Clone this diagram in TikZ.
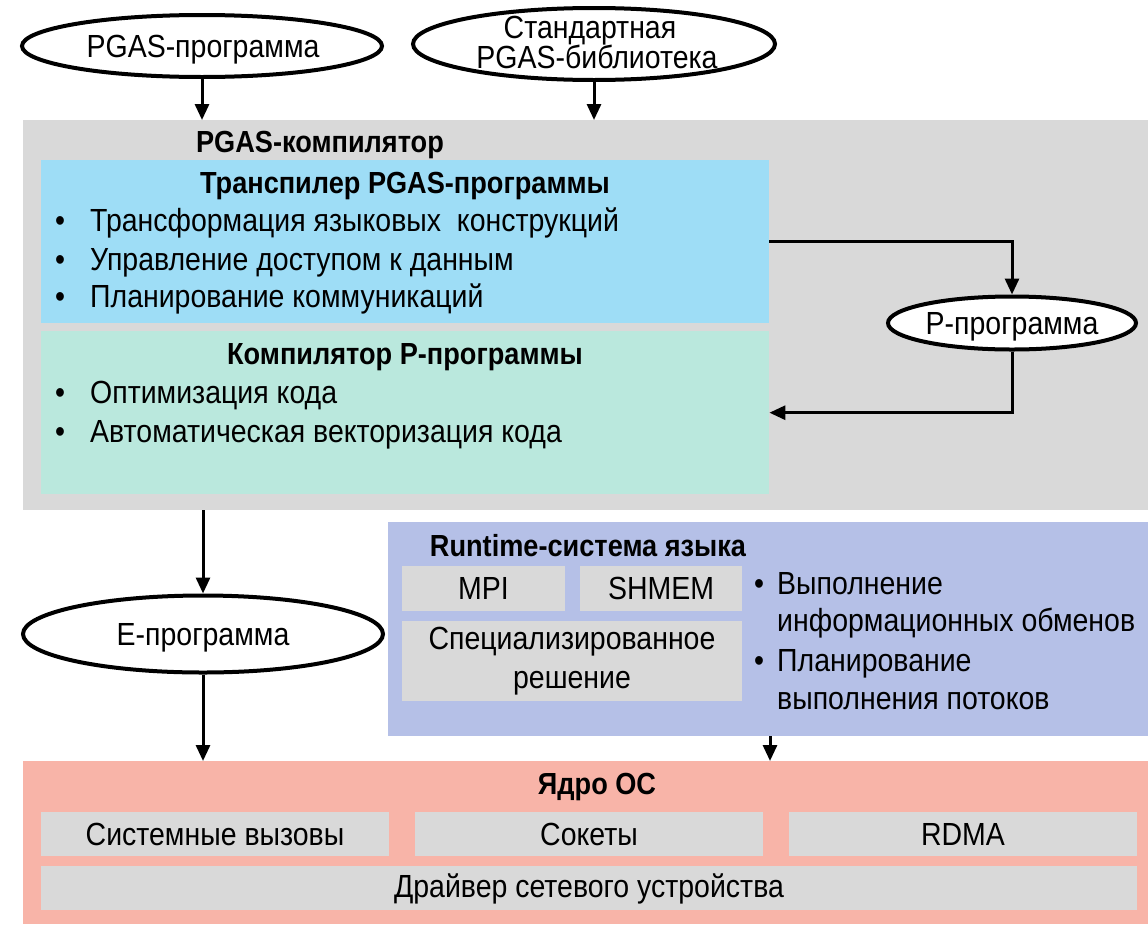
\documentclass[tikz,border=0pt]{standalone}
\usepackage{fontspec}
\setmainfont[FakeStretch=0.89]{Liberation Sans}
\usetikzlibrary{shapes.geometric,arrows.meta,calc}
\definecolor{cgray}{RGB}{217,217,217}
\definecolor{cblue}{RGB}{158,221,246}
\definecolor{cgreen}{RGB}{186,232,221}
\definecolor{clav}{RGB}{181,192,231}
\definecolor{csalmon}{RGB}{248,180,168}
\begin{document}
\begin{tikzpicture}[x=1pt,y=-1pt,
  box/.style={inner sep=0pt,anchor=north west},
  oval/.style={ellipse,draw=black,line width=4pt,fill=white,inner sep=0pt},
  txt/.style={anchor=base,inner sep=0pt,font=\fontsize{32}{38}\selectfont},
  ttl/.style={anchor=base,inner sep=0pt,font=\fontsize{30.5}{36}\selectfont\bfseries},
  lt/.style={anchor=base west,inner sep=0pt,font=\fontsize{32}{38}\selectfont},
  arr/.style={line width=3pt,-{Triangle[length=16pt,width=14pt]}}
]
\useasboundingbox (0,0) rectangle (1148,924);
\fill[white] (0,0) rectangle (1148,924);
% boxes
\node[box,fill=cgray,minimum width=1125pt,minimum height=390pt] (comp) at (23,120) {};
\node[box,fill=cblue,minimum width=728pt,minimum height=163pt] (trans) at (41,160) {};
\node[box,fill=cgreen,minimum width=728pt,minimum height=163pt] (pcomp) at (41,331) {};
\node[box,fill=clav,minimum width=760pt,minimum height=214pt] (rt) at (388,522) {};
\node[box,fill=cgray,minimum width=163pt,minimum height=45pt] (mpi) at (402,566) {};
\node[box,fill=cgray,minimum width=162pt,minimum height=45pt] (shmem) at (580,566) {};
\node[box,fill=cgray,minimum width=340pt,minimum height=80pt] (spec) at (402,621) {};
\node[box,fill=csalmon,minimum width=1125pt,minimum height=163pt] (os) at (23,761) {};
\node[box,fill=cgray,minimum width=348pt,minimum height=44pt] (sys) at (41,812) {};
\node[box,fill=cgray,minimum width=348pt,minimum height=44pt] (sock) at (415,812) {};
\node[box,fill=cgray,minimum width=348pt,minimum height=44pt] (rdma) at (789,812) {};
\node[box,fill=cgray,minimum width=1096pt,minimum height=44pt] (drv) at (41,866) {};
% ovals
\node[oval,minimum width=360pt,minimum height=62pt] (e1) at (202,46) {};
\node[oval,minimum width=362pt,minimum height=72pt] (e2) at (594,44) {};
\node[oval,minimum width=248pt,minimum height=53pt] (pp) at (1012,323) {};
\node[oval,minimum width=360pt,minimum height=77pt] (ep) at (203,634) {};
% texts
\node[txt] (t1) at (203,57) {PGAS-программа};
\node[txt] (t2a) at (590,38) {Стандартная};
\node[txt] (t2b) at (597,68) {PGAS-библиотека};
\node[txt] (tpp) at (1012,334) {Р-программа};
\node[txt] (tep) at (203,645) {Е-программа};
\node[ttl] (tcomp) at (320,152) {PGAS-компилятор};
\node[ttl] (ttrans) at (405,193) {Транспилер PGAS-программы};
\node[lt] (b1) at (55,231) {\makebox[35pt][l]{•}Трансформация языковых\ \ конструкций};
\node[lt] (b2) at (55,270) {\makebox[35pt][l]{•}Управление доступом к данным};
\node[lt] (b3) at (55,307) {\makebox[35pt][l]{•}Планирование коммуникаций};
\node[ttl] (tpc) at (405,364) {Компилятор Р-программы};
\node[lt] (b4) at (55,403) {\makebox[35pt][l]{•}Оптимизация кода};
\node[lt] (b5) at (55,442) {\makebox[35pt][l]{•}Автоматическая векторизация кода};
\node[ttl] (trt) at (588,556) {Runtime-система языка};
\node[txt] (tmpi) at (483.5,599) {MPI};
\node[txt] (tsh) at (661,599) {SHMEM};
\node[txt] (tsp1) at (572,649) {Специализированное};
\node[txt] (tsp2) at (572,688) {решение};
\node[lt] (r1) at (754,594) {\makebox[23pt][l]{•}Выполнение};
\node[lt] (r2) at (777,631) {информационных обменов};
\node[lt] (r3) at (754,671) {\makebox[23pt][l]{•}Планирование};
\node[lt] (r4) at (777,709) {выполнения потоков};
\node[ttl] (tos) at (597,794) {Ядро ОС};
\node[txt] (tsys) at (215,845) {Системные вызовы};
\node[txt] (tsock) at (589,845) {Сокеты};
\node[txt] (trdma) at (963,845) {RDMA};
\node[txt] (tdrv) at (589,897) {Драйвер сетевого устройства};
% arrows
\draw[arr] (e1.south) -- (e1.south |- comp.north);
\draw[arr] (e2.south) -- (e2.south |- comp.north);
\draw[arr] (trans.east) -| (pp.north);
\draw[arr] (pp.south) |- (pcomp.east);
\draw[arr] (comp.south -| ep.north) -- (ep.north);
\draw[arr] (ep.south) -- (ep.south |- os.north);
\coordinate (rtout) at (770,736);
\draw[arr] (rtout) -- (rtout |- os.north);
\end{tikzpicture}
\end{document}
